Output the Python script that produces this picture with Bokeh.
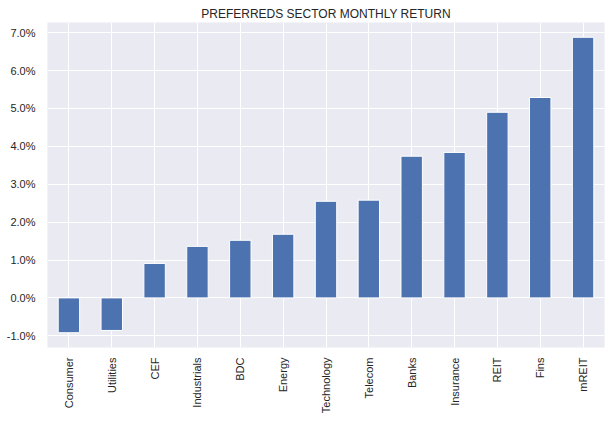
from bokeh.plotting import figure
from bokeh.models import ColumnDataSource, FactorRange, Range1d, SingleIntervalTicker, NumeralTickFormatter
from bokeh.embed import file_html
from bokeh.resources import INLINE
import math

sectors = ["Consumer", "Utilities", "CEF", "Industrials", "BDC", "Energy", "Technology",
           "Telecom", "Banks", "Insurance", "REIT", "Fins", "mREIT"]
returns = [-0.0092, -0.0086, 0.0091, 0.0136, 0.0152, 0.0168, 0.0255,
           0.0258, 0.0374, 0.0384, 0.0490, 0.0529, 0.0688]

src = ColumnDataSource(dict(sector=sectors, ret=returns))

p = figure(width=616, height=421, output_backend="svg", toolbar_location=None,
           x_range=FactorRange(*sectors), y_range=Range1d(-0.0131, 0.0727),
           title="PREFERREDS SECTOR MONTHLY RETURN",
           min_border_left=47, min_border_right=12, min_border_top=22, min_border_bottom=74)

p.vbar(x="sector", top="ret", bottom=0, width=0.5, source=src,
       fill_color="#4C72B0", line_color="white", line_width=1)

p.background_fill_color = "#EAEAF2"
p.border_fill_color = "white"
p.outline_line_color = None

p.title.align = "center"
p.title.text_font = "Liberation Sans"
p.title.text_font_size = "12px"
p.title.text_font_style = "normal"
p.title.text_color = "#262626"
p.title.standoff = 4

p.yaxis.ticker = SingleIntervalTicker(interval=0.01)
p.yaxis.formatter = NumeralTickFormatter(format="0.0%")

for ax in (p.xaxis[0], p.yaxis[0]):
    ax.axis_line_color = None
    ax.major_tick_line_color = None
    ax.minor_tick_line_color = None
    ax.major_tick_out = 0
    ax.major_tick_in = 0
    ax.minor_tick_out = 0
    ax.minor_tick_in = 0
    ax.major_label_text_font = "Liberation Sans"
    ax.major_label_text_font_size = "11px"
    ax.major_label_text_color = "#262626"

p.yaxis.major_label_standoff = 12
p.xaxis.major_label_standoff = 10
p.xaxis.major_label_orientation = math.pi / 2

p.xgrid.grid_line_color = "white"
p.ygrid.grid_line_color = "white"
p.xgrid.grid_line_width = 1
p.ygrid.grid_line_width = 1

open("out.html", "w").write(file_html(p, INLINE))
